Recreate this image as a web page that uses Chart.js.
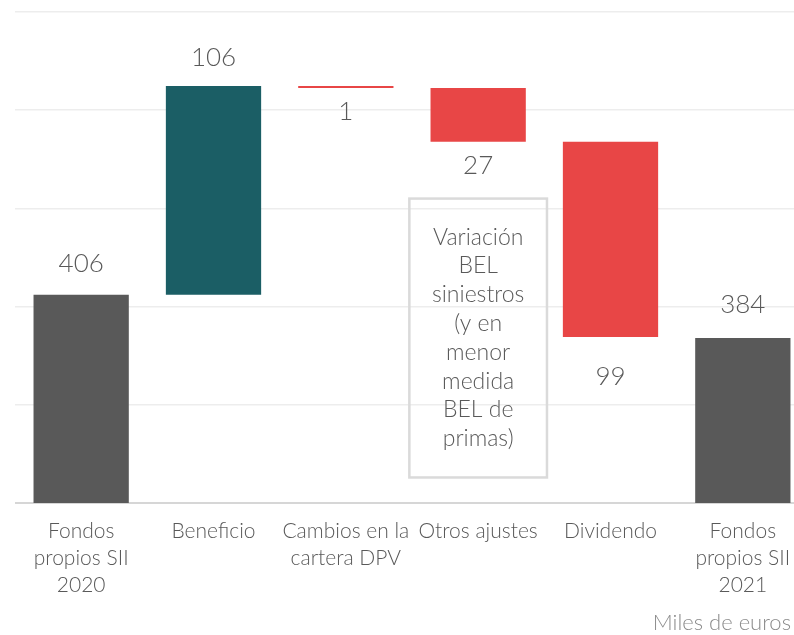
<!DOCTYPE html>
<html>
<head>
<meta charset="utf-8">
<script src="https://cdn.jsdelivr.net/npm/chart.js@4.4.0/dist/chart.umd.min.js"></script>
<style>
  html, body { margin: 0; padding: 0; background: #fff; overflow: hidden; }
  #wrap { position: relative; width: 810px; height: 635px; }
</style>
</head>
<body>
<div id="wrap"><canvas id="chart_one"></canvas></div>
<script>

// waterfall data (miles de euros)
var categories = [
    ['Fondos', 'propios SII', '2020'],
    'Beneficio',
    ['Cambios en la', 'cartera DPV'],
    'Otros ajustes',
    'Dividendo',
    ['Fondos', 'propios SII', '2021']
];
var changes = [406, 106.3, -1, -27.4, -99.4, 384];
var kinds = ['total', 'up', 'down', 'down', 'down', 'total'];

var y_ticks = [300, 350, 400, 450, 500, 550];

var note_lines = ['Variación', 'BEL', 'siniestros', '(y en', 'menor', 'medida', 'BEL de', 'primas)'];
var note_category = 3;
var note_range = [313, 455];   // y values covered by the note box
var unit_text = 'Miles de euros';

var kind_colors = { total: '#595959', up: '#1b5e65', down: '#e84646' };
var font_family = "Lato, 'Open Sans', sans-serif";

// build floating bars from running total
var ranges = [];
var running = 0;
changes.forEach(function (v, i) {
    if (kinds[i] == 'total') {
        ranges.push([0, v]);
        running = v;
    } else {
        ranges.push([running, running + v]);
        running = running + v;
    }
});
var bar_colors = kinds.map(function (k) { return kind_colors[k]; });

var waterfall_labels = {
    id: 'waterfall_labels',
    afterDatasetsDraw: function (chart, args, opts) {
        var ctx = chart.ctx;
        var meta = chart.getDatasetMeta(0);
        var nudge = opts.nudge || {};
        ctx.save();
        ctx.font = '300 26px ' + font_family;
        ctx.fillStyle = '#595959';
        ctx.textAlign = 'center';
        ctx.textBaseline = 'middle';
        meta.data.forEach(function (bar, i) {
            var top = Math.min(bar.y, bar.base);
            var bottom = Math.max(bar.y, bar.base);
            var txt = String(Math.round(Math.abs(changes[i])));
            var extra = nudge[i] || 0;
            if (kinds[i] == 'down') {
                ctx.fillText(txt, bar.x, bottom + 24 + extra);
            } else {
                ctx.fillText(txt, bar.x, top - 31 + extra);
            }
        });
        ctx.restore();
    }
};

var note_box = {
    id: 'note_box',
    afterDraw: function (chart) {
        var ctx = chart.ctx;
        var xs = chart.scales.x;
        var ys = chart.scales.y;
        var step = xs.getPixelForValue(1) - xs.getPixelForValue(0);
        var cx = xs.getPixelForValue(note_category);
        var left = cx - step * 0.52;
        var right = cx + step * 0.52;
        var top = ys.getPixelForValue(note_range[1]);
        var bottom = ys.getPixelForValue(note_range[0]);
        ctx.save();
        ctx.strokeStyle = '#dadada';
        ctx.lineWidth = 2.5;
        ctx.strokeRect(left, top, right - left, bottom - top);
        ctx.font = '300 23px ' + font_family;
        ctx.fillStyle = '#595959';
        ctx.textAlign = 'center';
        ctx.textBaseline = 'middle';
        var lh = 28.8;
        var y0 = (top + bottom) / 2 - lh * (note_lines.length - 1) / 2;
        note_lines.forEach(function (t, k) {
            ctx.fillText(t, cx, y0 + k * lh);
        });
        // units note
        ctx.font = '300 22px ' + font_family;
        ctx.fillStyle = '#8c8c8c';
        ctx.textAlign = 'right';
        ctx.textBaseline = 'alphabetic';
        ctx.fillText(unit_text, 791, 630);
        ctx.restore();
    }
};

var ctx = document.getElementById('chart_one').getContext('2d');
var chart = new Chart(ctx, {
    type: 'bar',
    data: {
        labels: categories,
        datasets: [{
            data: ranges,
            backgroundColor: bar_colors,
            borderWidth: 0,
            categoryPercentage: 1,
            barPercentage: 0.72
        }]
    },
    options: {
        responsive: true,
        maintainAspectRatio: false,
        animation: false,
        layout: { padding: { left: 15, right: 1, top: 12, bottom: 0 } },
        plugins: {
            legend: { display: false },
            tooltip: { enabled: false },
            waterfall_labels: { nudge: { 1: 3, 4: 16, 5: -2 } }
        },
        scales: {
            x: {
                grid: { display: false },
                border: { display: false },
                ticks: {
                    autoSkip: false,
                    maxRotation: 0,
                    padding: 7,
                    color: '#595959',
                    font: { family: font_family, size: 21, weight: 300, lineHeight: 1.28 }
                },
                afterFit: function (scale) { scale.height = 132; }
            },
            y: {
                min: y_ticks[0],
                max: y_ticks[y_ticks.length - 1],
                afterBuildTicks: function (scale) {
                    scale.ticks = y_ticks.map(function (v) { return { value: v }; });
                },
                ticks: { display: false },
                border: { display: false },
                grid: {
                    drawTicks: false,
                    color: function (c) { return c.tick && c.tick.value == y_ticks[0] ? '#d6d6d6' : '#ededed'; },
                    lineWidth: function (c) { return c.tick && c.tick.value == y_ticks[0] ? 2 : 1.5; }
                },
                afterFit: function (scale) { scale.width = 0; }
            }
        }
    },
    plugins: [waterfall_labels, note_box]
});

</script>
</body>
</html>
